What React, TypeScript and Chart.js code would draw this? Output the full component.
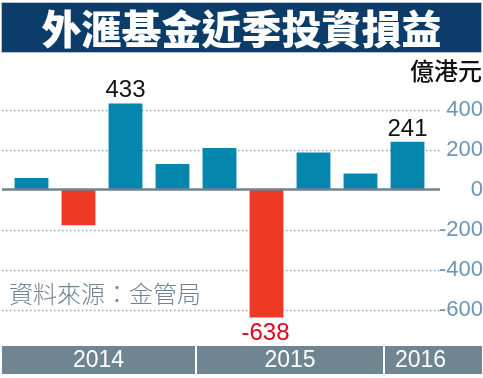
import React, { useEffect, useRef } from "react";
import { Chart, registerables } from "chart.js";

Chart.register(...registerables);

// ---- data ----
const quarters = [
  "2014 Q1", "2014 Q2", "2014 Q3", "2014 Q4",
  "2015 Q1", "2015 Q2", "2015 Q3", "2015 Q4",
  "2016 Q1",
];
const values = [60, -176, 433, 130, 210, -638, 187, 83, 241];
const labeledIndices = [2, 5, 8];
const yearLabels = ["2014", "2015", "2016"];
const yearQuarterCounts = [4, 4, 1];
const yTickValues = [400, 200, 0, -200, -400, -600];

const titleText = "外滙基金近季投資損益";
const unitText = "億港元";
const sourceText = "資料來源：金管局";

const POS = "#0587ad";
const NEG = "#ee3a24";
const NUM_FONT = "'Liberation Sans', Arial, sans-serif";

const gridPlugin = {
  id: "gridExt",
  beforeDatasetsDraw(chart: any) {
    const { ctx, chartArea, scales } = chart;
    const y = scales.y;
    ctx.save();
    ctx.strokeStyle = "#9ba3aa";
    ctx.lineWidth = 1.5;
    ctx.setLineDash([1.5, 2.5]);
    yTickValues.forEach((v) => {
      if (v === 0) return;
      const py = Math.round(y.getPixelForValue(v)) + 0.5;
      ctx.beginPath();
      ctx.moveTo(2, py);
      ctx.lineTo(chartArea.right + 9, py);
      ctx.stroke();
    });
    ctx.restore();
  },
  afterDatasetsDraw(chart: any) {
    const { ctx, chartArea, scales } = chart;
    const y = scales.y;
    const x = scales.x;
    ctx.save();
    // zero line
    const py0 = y.getPixelForValue(0);
    ctx.strokeStyle = "#71838f";
    ctx.lineWidth = 2.5;
    ctx.beginPath();
    ctx.moveTo(2, py0 - 0.5);
    ctx.lineTo(chartArea.right + 9, py0 - 0.5);
    ctx.stroke();
    // value labels
    ctx.font = `24px ${NUM_FONT}`;
    ctx.textAlign = "center";
    ctx.textBaseline = "alphabetic";
    labeledIndices.forEach((i) => {
      const v = values[i];
      const px = x.getPixelForValue(i);
      const pv = y.getPixelForValue(v);
      if (v >= 0) {
        ctx.fillStyle = "#111111";
        ctx.fillText(String(v), px, pv - 6);
      } else {
        ctx.fillStyle = "#e50019";
        ctx.fillText(String(v), px - 1, pv + 22);
      }
    });
    ctx.restore();
  },
  afterDraw(chart: any) {
    const { ctx, scales } = chart;
    const x = scales.x;
    const step = x.getPixelForValue(1) - x.getPixelForValue(0);
    ctx.save();
    let start = 0;
    const top = 346;
    const bottom = 374;
    yearLabels.forEach((lab, gi) => {
      const n = yearQuarterCounts[gi];
      const firstC = x.getPixelForValue(start);
      const lastC = x.getPixelForValue(start + n - 1);
      const left = gi === 0 ? 2 : firstC - step / 2 + 1;
      const right = gi === yearLabels.length - 1 ? 482 : lastC + step / 2 - 1;
      ctx.fillStyle = "#6f8592";
      ctx.fillRect(left, top, right - left, bottom - top);
      const textRight = Math.min(right, 456);
      ctx.fillStyle = "#ffffff";
      ctx.font = `23px ${NUM_FONT}`;
      ctx.textAlign = "center";
      ctx.textBaseline = "middle";
      ctx.fillText(lab, (left + textRight) / 2, (top + bottom) / 2 + 1);
      start += n;
    });
    ctx.restore();
  },
};

export default function App() {
  const ref = useRef<HTMLCanvasElement | null>(null);

  useEffect(() => {
    if (!ref.current) return;
    const chart = new Chart(ref.current, {
      type: "bar",
      data: {
        labels: quarters,
        datasets: [
          {
            data: values,
            backgroundColor: values.map((v) => (v >= 0 ? POS : NEG)),
            borderWidth: 0,
            categoryPercentage: 1,
            barPercentage: 0.72,
          },
        ],
      },
      options: {
        responsive: false,
        animation: false,
        devicePixelRatio: 1,
        layout: { padding: { left: 8, top: 70, bottom: 48, right: 0 } },
        plugins: {
          legend: { display: false },
          tooltip: { enabled: false },
          title: { display: false },
        },
        scales: {
          x: {
            type: "category",
            display: false,
          },
          y: {
            type: "linear",
            position: "right",
            min: -700,
            max: 600,
            afterBuildTicks: (axis: any) => {
              axis.ticks = yTickValues.map((v) => ({ value: v }));
            },
            afterFit: (axis: any) => {
              axis.width = 52;
            },
            ticks: {
              callback: (v: any) => String(v),
              font: { size: 22, family: NUM_FONT },
              color: "#6d94b4",
              padding: 8,
              crossAlign: "far",
            },
            grid: { display: false, drawTicks: false },
            border: { display: false },
          },
        },
      },
      plugins: [gridPlugin],
    } as any);
    return () => chart.destroy();
  }, []);

  return (
    <div
      style={{
        position: "fixed",
        left: 0,
        top: 0,
        width: 483,
        height: 378,
        background: "#ffffff",
        overflow: "hidden",
      }}
    >
      <canvas
        ref={ref}
        width={483}
        height={378}
        style={{ position: "absolute", left: 0, top: 0, width: 483, height: 378 }}
      />
      <div
        style={{
          position: "absolute",
          left: 1,
          top: 2,
          width: 479,
          height: 49,
          background: "#0c3d6a",
          border: "1px solid #b9c3cc",
          color: "#ffffff",
          fontFamily: "'Noto Sans CJK TC', 'Noto Sans CJK SC', sans-serif",
          fontWeight: 900,
          fontSize: 40,
          lineHeight: "49px",
          textAlign: "center",
          letterSpacing: 0,
        }}
      >
        {titleText}
      </div>
      <div
        style={{
          position: "absolute",
          right: 1,
          top: 58,
          fontFamily: "'Noto Sans CJK TC', 'Noto Sans CJK SC', sans-serif",
          fontSize: 24,
          lineHeight: "24px",
          color: "#111111",
          fontWeight: 500,
        }}
      >
        {unitText}
      </div>
      <div
        style={{
          position: "absolute",
          left: 9,
          top: 281,
          fontFamily: "'Noto Sans CJK TC', 'Noto Sans CJK SC', sans-serif",
          fontSize: 24,
          lineHeight: "24px",
          color: "#6e8494",
          fontWeight: 300,
        }}
      >
        {sourceText}
      </div>
    </div>
  );
}
